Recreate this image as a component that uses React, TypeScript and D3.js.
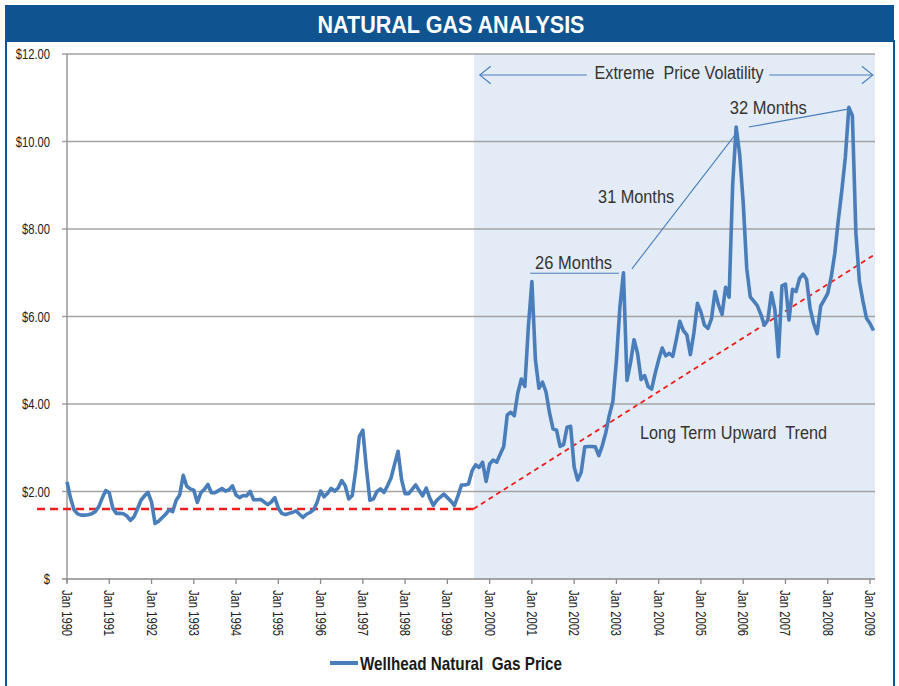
import { useEffect, useRef } from 'react';
import * as d3 from 'd3';

// Monthly wellhead price, Jan 1990 .. Feb 2009 ($/Mcf)
const prices1990s = [
  2.22, 1.85, 1.58, 1.49, 1.46, 1.46, 1.47, 1.49, 1.54, 1.65, 1.85, 2.02,
  1.97, 1.62, 1.5, 1.5, 1.49, 1.44, 1.34, 1.42, 1.6, 1.8, 1.9, 1.98,
  1.76, 1.27, 1.32, 1.4, 1.48, 1.58, 1.54, 1.8, 1.92, 2.37, 2.12, 2.06,
  2.03, 1.75, 1.97, 2.05, 2.16, 1.97, 1.97, 2.02, 2.07, 2.01, 2.04, 2.13,
  1.92, 1.86, 1.91, 1.9, 2.0, 1.81, 1.81, 1.82, 1.76, 1.7, 1.76, 1.86,
  1.62, 1.5, 1.47, 1.5, 1.52, 1.56, 1.48, 1.41, 1.48, 1.52, 1.58, 1.75,
  2.01, 1.88, 1.96, 2.07, 2.01, 2.08, 2.25, 2.13, 1.83, 1.91, 2.5, 3.26,
  3.4, 2.54, 1.8, 1.83, 2.0, 2.06, 1.98, 2.13, 2.31, 2.62, 2.92, 2.27,
  1.95, 1.95, 2.05, 2.15, 2.02, 1.9, 2.08, 1.85, 1.68, 1.8, 1.87, 1.94,
  1.86, 1.78, 1.68, 1.9, 2.15, 2.15, 2.17, 2.47, 2.61, 2.55, 2.67, 2.23,
];
const prices2000s = [
  2.63, 2.72, 2.67, 2.85, 3.03, 3.75, 3.81, 3.73, 4.25, 4.57, 4.4, 5.77,
  6.8, 5.01, 4.36, 4.5, 4.28, 3.8, 3.43, 3.4, 3.03, 3.07, 3.47, 3.49,
  2.56, 2.26, 2.44, 3.02, 3.03, 3.03, 3.02, 2.82, 3.05, 3.35, 3.75, 4.06,
  5.0, 6.23, 7.0, 4.54, 4.94, 5.47, 5.16, 4.56, 4.65, 4.4, 4.34, 4.7,
  5.01, 5.28, 5.1, 5.16, 5.09, 5.47, 5.89, 5.68, 5.58, 5.13, 5.63, 6.3,
  6.1, 5.8, 5.73, 5.95, 6.57, 6.26, 6.05, 6.67, 6.44, 9.0, 10.33, 9.7,
  8.6, 7.1, 6.45, 6.35, 6.25, 6.05, 5.8, 5.92, 6.54, 6.15, 5.08, 6.7,
  6.74, 5.92, 6.62, 6.57, 6.87, 6.97, 6.85, 6.18, 5.84, 5.61, 6.24, 6.38,
  6.53, 6.91, 7.44, 8.2, 8.88, 9.64, 10.78, 10.59, 7.9, 6.8, 6.35, 5.96,
  5.84, 5.68,
];
const prices = [...prices1990s, ...prices2000s];

const yTicks = [0, 2, 4, 6, 8, 10, 12];
const yTickLabels = ['$', '$2.00', '$4.00', '$6.00', '$8.00', '$10.00', '$12.00'];
const xTickLabels = [
  'Jan 1990', 'Jan 1991', 'Jan 1992', 'Jan 1993', 'Jan 1994', 'Jan 1995', 'Jan 1996',
  'Jan 1997', 'Jan 1998', 'Jan 1999', 'Jan 2000', 'Jan 2001', 'Jan 2002', 'Jan 2003',
  'Jan 2004', 'Jan 2005', 'Jan 2006', 'Jan 2007', 'Jan 2008', 'Jan 2009',
];

// trend lines as [month index, price]
const flatTrend: [number, number][] = [[-8.5, 1.6], [115.4, 1.6]];
const upTrend: [number, number][] = [[115.4, 1.6], [229.4, 7.42]];
const volatileStart = 115.6; // shaded period starts ~Aug 1999

const FONT = "'Liberation Sans', Arial, sans-serif";
const BLUE = '#4a7ebb';
const NAVY = '#0f5491';
const SQUEEZE = 0.8; // fake a condensed face

export default function App() {
  const svgRef = useRef<SVGSVGElement | null>(null);

  // plot box
  const left = 67;
  const right = 875;
  const top = 54;
  const bottom = 579;

  useEffect(() => {
    const svg = d3.select(svgRef.current);
    svg.selectAll('*').remove();

    const x = d3.scaleLinear().domain([0, 228]).range([left, 870]);
    const y = d3.scaleLinear().domain([0, 12]).range([bottom, top]);

    // squeeze text horizontally, to a fixed width or by the ratio
    const narrow = (t: d3.Selection<SVGTextElement, unknown, null, undefined>, width?: number) => {
      const node = t.node();
      if (!node) return;
      const w = width ?? node.getComputedTextLength() * SQUEEZE;
      t.attr('textLength', w).attr('lengthAdjust', 'spacingAndGlyphs');
    };

    svg.append('rect').attr('width', 899).attr('height', 686).attr('fill', '#fff');

    // title bar
    svg.append('rect')
      .attr('x', 5).attr('y', 5).attr('width', 889).attr('height', 37)
      .attr('fill', NAVY);
    const title = svg.append('text')
      .attr('x', 451).attr('y', 24)
      .attr('text-anchor', 'middle').attr('dominant-baseline', 'central')
      .attr('fill', '#fff').style('font-family', FONT)
      .style('font-weight', 'bold').style('font-size', '24px')
      .text('NATURAL GAS ANALYSIS');
    narrow(title, 267);

    // frame sides
    svg.append('line').attr('x1', 6).attr('x2', 6).attr('y1', 40).attr('y2', 686)
      .attr('stroke', NAVY).attr('stroke-width', 2);
    svg.append('line').attr('x1', 894).attr('x2', 894).attr('y1', 40).attr('y2', 686)
      .attr('stroke', NAVY).attr('stroke-width', 2);

    // shaded volatility region
    svg.append('rect')
      .attr('x', x(volatileStart)).attr('y', top)
      .attr('width', right - x(volatileStart)).attr('height', bottom - top)
      .attr('fill', '#e3ebf6');

    // gridlines + y labels
    yTicks.forEach((v, i) => {
      if (v > 0) {
        svg.append('line')
          .attr('x1', left - 5).attr('x2', right)
          .attr('y1', y(v)).attr('y2', y(v))
          .attr('stroke', '#a3a3a3').attr('stroke-width', 1.3);
      }
      const t = svg.append('text')
        .attr('x', 50).attr('y', y(v))
        .attr('text-anchor', 'end').attr('dominant-baseline', 'central')
        .attr('fill', '#222').style('font-family', FONT).style('font-size', '14px')
        .text(yTickLabels[i]);
      narrow(t);
    });

    // axes
    svg.append('line').attr('x1', left).attr('x2', left).attr('y1', top).attr('y2', bottom + 4)
      .attr('stroke', '#8a8a8a').attr('stroke-width', 1.3);
    svg.append('line').attr('x1', left - 5).attr('x2', right).attr('y1', bottom).attr('y2', bottom)
      .attr('stroke', '#8a8a8a').attr('stroke-width', 1.3);

    xTickLabels.forEach((lab, i) => {
      const xx = x(i * 12);
      svg.append('line').attr('x1', xx).attr('x2', xx).attr('y1', bottom).attr('y2', bottom + 5)
        .attr('stroke', '#8a8a8a').attr('stroke-width', 1.3);
      const t = svg.append('text')
        .attr('transform', `translate(${xx},590) rotate(90)`)
        .attr('dominant-baseline', 'central')
        .attr('fill', '#222').style('font-family', FONT).style('font-size', '14px')
        .text(lab);
      narrow(t);
    });

    // trend lines
    const tline = d3.line<[number, number]>().x((d) => x(d[0])).y((d) => y(d[1]));
    svg.append('path').attr('d', tline(flatTrend)).attr('fill', 'none')
      .attr('stroke', '#ee1c1c').attr('stroke-width', 2.6).attr('stroke-dasharray', '8,5');
    svg.append('path').attr('d', tline(upTrend)).attr('fill', 'none')
      .attr('stroke', '#ee1c1c').attr('stroke-width', 1.8).attr('stroke-dasharray', '5,4');

    // price line
    const pline = d3.line<number>().x((_, i) => x(i)).y((d) => y(d));
    svg.append('path').datum(prices).attr('d', pline).attr('fill', 'none')
      .attr('stroke', BLUE).attr('stroke-width', 3.6).attr('stroke-linejoin', 'round');

    // annotations
    const note = (m: number, v: number, s: string, width: number, anchor = 'start') => {
      const t = svg.append('text')
        .attr('x', x(m)).attr('y', y(v))
        .attr('text-anchor', anchor).attr('dominant-baseline', 'central')
        .attr('fill', '#333').style('font-family', FONT).style('font-size', '18px')
        .style('white-space', 'pre')
        .text(s);
      narrow(t, width);
    };
    const thin = (pts: [number, number][]) =>
      svg.append('path').attr('d', tline(pts)).attr('fill', 'none')
        .attr('stroke', BLUE).attr('stroke-width', 1.1);

    note(173.8, 11.57, 'Extreme  Price Volatility', 169, 'middle');
    thin([[117.2, 11.52], [147.6, 11.52]]);
    thin([[199.4, 11.52], [228.8, 11.52]]);
    // arrow heads
    thin([[120.3, 11.72], [117.2, 11.52], [120.3, 11.32]]);
    thin([[225.7, 11.72], [228.8, 11.52], [225.7, 11.32]]);

    note(132.9, 7.22, '26 Months', 77);
    thin([[131.5, 6.99], [156.7, 6.99]]);
    note(150.8, 8.73, '31 Months', 76);
    thin([[160.4, 7.09], [189.7, 10.15]]);
    note(188.2, 10.77, '32 Months', 77);
    thin([[193.6, 10.33], [221.7, 10.74]]);
    note(162.7, 3.34, 'Long Term Upward  Trend', 187);

    // legend
    svg.append('line').attr('x1', 330).attr('x2', 358).attr('y1', 663).attr('y2', 663)
      .attr('stroke', BLUE).attr('stroke-width', 4);
    const leg = svg.append('text')
      .attr('x', 360).attr('y', 663).attr('dominant-baseline', 'central')
      .attr('fill', '#1a1a1a').style('font-family', FONT)
      .style('font-weight', 'bold').style('font-size', '19px')
      .style('white-space', 'pre')
      .text('Wellhead Natural  Gas Price');
    narrow(leg, 202);
  }, []);

  return (
    <svg
      ref={svgRef}
      width={899}
      height={686}
      style={{ position: 'absolute', left: 0, top: 0, display: 'block' }}
    />
  );
}
